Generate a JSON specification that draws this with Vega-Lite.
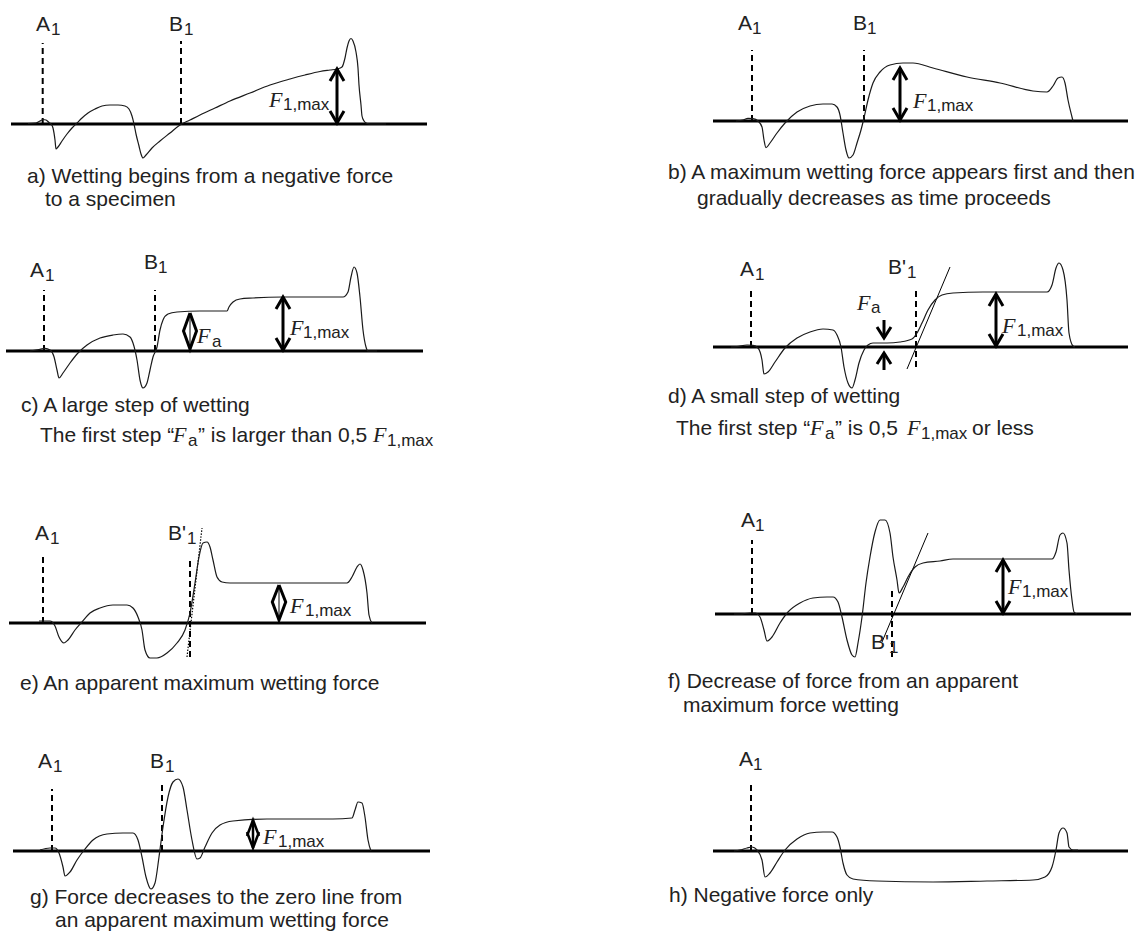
{
  "$schema": "https://vega.github.io/schema/vega-lite/v6.json",
  "background": "white",
  "padding": 0,
  "config": {"view": {"stroke": null}},
  "datasets": {
    "a_base": [{"t": 11, "t2": 427, "f": 0}],
    "a_dash": [{"t": 42.7, "f": 0, "f2": 81}, {"t": 181, "f": 0, "f2": 83}],
    "a_curve": [
      {"t": 28, "f": 0.5}, {"t": 36, "f": 1}, {"t": 40, "f": 3}, {"t": 43, "f": 4.5}, {"t": 46, "f": 4}, {"t": 49, "f": 1.5}, {"t": 51, "f": 0},
      {"t": 53, "f": -4}, {"t": 55, "f": -16}, {"t": 56, "f": -25}, {"t": 58, "f": -23}, {"t": 62, "f": -17}, {"t": 67, "f": -10}, {"t": 72, "f": -4},
      {"t": 77, "f": 1}, {"t": 82, "f": 6}, {"t": 88, "f": 11}, {"t": 95, "f": 15}, {"t": 102, "f": 18}, {"t": 110, "f": 19}, {"t": 118, "f": 19},
      {"t": 125, "f": 18}, {"t": 129, "f": 15}, {"t": 132, "f": 8}, {"t": 134, "f": 0}, {"t": 136, "f": -10}, {"t": 139, "f": -22}, {"t": 141, "f": -30},
      {"t": 143, "f": -34}, {"t": 146, "f": -31}, {"t": 152, "f": -24}, {"t": 160, "f": -17}, {"t": 170, "f": -9}, {"t": 180, "f": -1}, {"t": 190, "f": 4},
      {"t": 200, "f": 9}, {"t": 215, "f": 16}, {"t": 230, "f": 23}, {"t": 250, "f": 31}, {"t": 270, "f": 39}, {"t": 290, "f": 45}, {"t": 305, "f": 49},
      {"t": 320, "f": 52.5}, {"t": 330, "f": 54}, {"t": 337, "f": 55}, {"t": 342, "f": 57}, {"t": 345, "f": 66}, {"t": 347, "f": 76}, {"t": 349, "f": 83},
      {"t": 351, "f": 85.5}, {"t": 353, "f": 83}, {"t": 356, "f": 72}, {"t": 358, "f": 56}, {"t": 359, "f": 39}, {"t": 361, "f": 19}, {"t": 362, "f": 8},
      {"t": 364, "f": 3}, {"t": 366, "f": 1}, {"t": 370, "f": 0}, {"t": 386, "f": 0}
    ],
    "a_arrow": [
      {"id": 1, "t": 337, "f": 1}, {"id": 1, "t": 337, "f": 55},
      {"id": 2, "t": 330, "f": 43}, {"id": 2, "t": 337, "f": 55}, {"id": 2, "t": 344, "f": 43},
      {"id": 3, "t": 330, "f": 13}, {"id": 3, "t": 337, "f": 1}, {"id": 3, "t": 344, "f": 13}
    ],
    "a_big": [
      {"t": 36, "f": 93, "txt": "A"}, {"t": 169, "f": 93, "txt": "B"},
      {"t": 27, "f": -59, "txt": "a) Wetting begins from a negative force"},
      {"t": 45, "f": -82, "txt": "to a specimen"}
    ],
    "a_small": [{"t": 51, "f": 89, "txt": "1"}, {"t": 184, "f": 89, "txt": "1"}, {"t": 283, "f": 14, "txt": "1,max"}],
    "a_ital": [{"t": 269, "f": 17, "txt": "F"}],

    "b_base": [{"t": 127, "t2": 542, "f": 0}],
    "b_dash": [{"t": 166, "f": 0, "f2": 71}, {"t": 278, "f": 0, "f2": 71}],
    "b_curve": [
      {"t": 150, "f": 0}, {"t": 157, "f": 1}, {"t": 162, "f": 2.7}, {"t": 167, "f": 2.3}, {"t": 172, "f": 0}, {"t": 176, "f": -6}, {"t": 178, "f": -19},
      {"t": 180, "f": -26.7}, {"t": 184, "f": -22}, {"t": 191, "f": -12}, {"t": 199, "f": -2}, {"t": 211, "f": 9}, {"t": 224, "f": 15}, {"t": 237, "f": 17},
      {"t": 246, "f": 17}, {"t": 251, "f": 14}, {"t": 254, "f": 6}, {"t": 257, "f": -12}, {"t": 260, "f": -29}, {"t": 263, "f": -37}, {"t": 267, "f": -34},
      {"t": 271, "f": -22}, {"t": 275, "f": -9}, {"t": 278, "f": 3}, {"t": 282, "f": 21}, {"t": 287, "f": 38}, {"t": 294, "f": 49}, {"t": 304, "f": 56},
      {"t": 317, "f": 58}, {"t": 327, "f": 58}, {"t": 347, "f": 53}, {"t": 381, "f": 44}, {"t": 414, "f": 38}, {"t": 447, "f": 30}, {"t": 461, "f": 29},
      {"t": 467, "f": 35}, {"t": 472, "f": 43}, {"t": 476, "f": 44}, {"t": 479, "f": 38}, {"t": 482, "f": 21}, {"t": 486, "f": 4}, {"t": 487, "f": 0}
    ],
    "b_arrow": [
      {"id": 1, "t": 314, "f": 1}, {"id": 1, "t": 314, "f": 53},
      {"id": 2, "t": 307, "f": 41}, {"id": 2, "t": 314, "f": 53}, {"id": 2, "t": 321, "f": 41},
      {"id": 3, "t": 307, "f": 13}, {"id": 3, "t": 314, "f": 1}, {"id": 3, "t": 321, "f": 13}
    ],
    "b_big": [
      {"t": 152, "f": 91, "txt": "A"}, {"t": 267, "f": 91, "txt": "B"},
      {"t": 82, "f": -58, "txt": "b) A maximum wetting force appears first and then"},
      {"t": 111, "f": -84, "txt": "gradually decreases as time proceeds"}
    ],
    "b_small": [{"t": 166, "f": 87, "txt": "1"}, {"t": 281, "f": 87, "txt": "1"}, {"t": 341, "f": 10, "txt": "1,max"}],
    "b_ital": [{"t": 327, "f": 13, "txt": "F"}],

    "c_base": [{"t": 6, "t2": 423, "f": 0}],
    "c_dash": [{"t": 44, "f": 0, "f2": 61}, {"t": 155, "f": 0, "f2": 61}],
    "c_thin": [{"t": 190, "f": 2, "t2": 190, "f2": 38}],
    "c_curve": [
      {"t": 30, "f": 0}, {"t": 40, "f": 1.7}, {"t": 45, "f": 2.7}, {"t": 50, "f": 1}, {"t": 54, "f": -5.7}, {"t": 57, "f": -19}, {"t": 59, "f": -27},
      {"t": 63, "f": -22}, {"t": 70, "f": -12}, {"t": 78, "f": -2}, {"t": 87, "f": 6}, {"t": 100, "f": 13}, {"t": 113, "f": 16}, {"t": 123, "f": 17},
      {"t": 130, "f": 14}, {"t": 133, "f": 8}, {"t": 137, "f": -9}, {"t": 140, "f": -29}, {"t": 143, "f": -37}, {"t": 147, "f": -32}, {"t": 150, "f": -19},
      {"t": 153, "f": -6}, {"t": 157, "f": 4}, {"t": 160, "f": 21}, {"t": 163, "f": 31}, {"t": 168, "f": 37}, {"t": 177, "f": 39}, {"t": 200, "f": 40},
      {"t": 227, "f": 40}, {"t": 229, "f": 44}, {"t": 233, "f": 49}, {"t": 240, "f": 52}, {"t": 253, "f": 53}, {"t": 283, "f": 54}, {"t": 317, "f": 54},
      {"t": 343, "f": 54}, {"t": 348, "f": 59}, {"t": 351, "f": 74}, {"t": 354, "f": 84}, {"t": 357, "f": 78}, {"t": 360, "f": 54}, {"t": 363, "f": 21},
      {"t": 366, "f": 4}, {"t": 368, "f": 0}, {"t": 377, "f": 0}
    ],
    "c_arrow": [
      {"id": 1, "t": 283, "f": 1}, {"id": 1, "t": 283, "f": 54},
      {"id": 2, "t": 276, "f": 42}, {"id": 2, "t": 283, "f": 54}, {"id": 2, "t": 290, "f": 42},
      {"id": 3, "t": 276, "f": 13}, {"id": 3, "t": 283, "f": 1}, {"id": 3, "t": 290, "f": 13},
      {"id": 4, "t": 190, "f": 38}, {"id": 4, "t": 183.5, "f": 20}, {"id": 4, "t": 190, "f": 2}, {"id": 4, "t": 196.5, "f": 20}, {"id": 4, "t": 190, "f": 38}
    ],
    "c_big": [
      {"t": 30, "f": 74, "txt": "A"}, {"t": 144, "f": 82, "txt": "B"},
      {"t": 21, "f": -61, "txt": "c) A large step of wetting"},
      {"t": 40, "f": -91, "txt": "The first step “"},
      {"t": 198, "f": -91, "txt": "” is larger than 0,5"}
    ],
    "c_small": [
      {"t": 45, "f": 70, "txt": "1"}, {"t": 158, "f": 78, "txt": "1"},
      {"t": 212, "f": 4, "txt": "a"}, {"t": 303, "f": 13, "txt": "1,max"},
      {"t": 188, "f": -95, "txt": "a"}, {"t": 387, "f": -95, "txt": "1,max"}
    ],
    "c_ital": [
      {"t": 197, "f": 8, "txt": "F"}, {"t": 290, "f": 16, "txt": "F"},
      {"t": 173, "f": -91, "txt": "F"}, {"t": 373, "f": -91, "txt": "F"}
    ],

    "d_base": [{"t": 127, "t2": 542, "f": 0}],
    "d_dash": [{"t": 165, "f": 0, "f2": 57}, {"t": 330, "f": -20, "f2": 57}],
    "d_thin": [{"t": 321, "f": -22, "t2": 364, "f2": 80}],
    "d_curve": [
      {"t": 145, "f": 0}, {"t": 151, "f": 0.3}, {"t": 161, "f": 2}, {"t": 167, "f": 1.7}, {"t": 172, "f": -1}, {"t": 176, "f": -13}, {"t": 178, "f": -27},
      {"t": 182, "f": -25}, {"t": 189, "f": -15}, {"t": 199, "f": -1}, {"t": 211, "f": 9}, {"t": 224, "f": 15}, {"t": 237, "f": 18}, {"t": 247, "f": 17},
      {"t": 251, "f": 12}, {"t": 255, "f": 0}, {"t": 258, "f": -20}, {"t": 262, "f": -36}, {"t": 266, "f": -41}, {"t": 269, "f": -33}, {"t": 273, "f": -16},
      {"t": 278, "f": -3}, {"t": 282, "f": 2}, {"t": 287, "f": 4}, {"t": 301, "f": 4}, {"t": 314, "f": 5}, {"t": 326, "f": 8}, {"t": 331, "f": 14},
      {"t": 336, "f": 24}, {"t": 342, "f": 37}, {"t": 349, "f": 47}, {"t": 356, "f": 52}, {"t": 367, "f": 54}, {"t": 397, "f": 55}, {"t": 447, "f": 55},
      {"t": 461, "f": 55}, {"t": 466, "f": 62}, {"t": 470, "f": 79}, {"t": 473, "f": 84}, {"t": 477, "f": 77}, {"t": 481, "f": 47}, {"t": 483, "f": 14},
      {"t": 487, "f": 1}, {"t": 489, "f": 0}
    ],
    "d_arrow": [
      {"id": 1, "t": 410, "f": 1}, {"id": 1, "t": 410, "f": 53},
      {"id": 2, "t": 403, "f": 41}, {"id": 2, "t": 410, "f": 53}, {"id": 2, "t": 417, "f": 41},
      {"id": 3, "t": 403, "f": 13}, {"id": 3, "t": 410, "f": 1}, {"id": 3, "t": 417, "f": 13},
      {"id": 4, "t": 298, "f": 27}, {"id": 4, "t": 298, "f": 9},
      {"id": 5, "t": 291, "f": 20}, {"id": 5, "t": 298, "f": 9}, {"id": 5, "t": 305, "f": 20},
      {"id": 6, "t": 298, "f": -23}, {"id": 6, "t": 298, "f": -6},
      {"id": 7, "t": 291, "f": -17}, {"id": 7, "t": 298, "f": -6}, {"id": 7, "t": 305, "f": -17}
    ],
    "d_big": [
      {"t": 154, "f": 71, "txt": "A"}, {"t": 302, "f": 73, "txt": "B'"},
      {"t": 82, "f": -56, "txt": "d) A small step of wetting"},
      {"t": 90, "f": -88, "txt": "The first step “"},
      {"t": 249, "f": -88, "txt": "” is 0,5"},
      {"t": 386, "f": -88, "txt": "or less"}
    ],
    "d_small": [
      {"t": 169, "f": 67, "txt": "1"}, {"t": 321, "f": 69, "txt": "1"},
      {"t": 285, "f": 34, "txt": "a"}, {"t": 431, "f": 11, "txt": "1,max"},
      {"t": 239, "f": -92, "txt": "a"}, {"t": 335, "f": -92, "txt": "1,max"}
    ],
    "d_ital": [
      {"t": 271, "f": 37, "txt": "F"}, {"t": 416, "f": 14, "txt": "F"},
      {"t": 224, "f": -88, "txt": "F"}, {"t": 321, "f": -88, "txt": "F"}
    ],

    "e_base": [{"t": 9, "t2": 426, "f": 0}],
    "e_dash": [{"t": 43, "f": 0, "f2": 66}, {"t": 190, "f": -34, "f2": 66}],
    "e_dot": [{"t": 187, "f": -34, "t2": 202, "f2": 95}],
    "e_thin": [{"t": 279, "f": 3, "t2": 279, "f2": 38}],
    "e_curve": [
      {"t": 39, "f": 2}, {"t": 50, "f": 2}, {"t": 55, "f": -3}, {"t": 59, "f": -14}, {"t": 64, "f": -20}, {"t": 68, "f": -17}, {"t": 75, "f": -7},
      {"t": 82, "f": 1}, {"t": 90, "f": 10}, {"t": 100, "f": 15}, {"t": 113, "f": 18}, {"t": 127, "f": 18}, {"t": 133, "f": 15}, {"t": 138, "f": 6},
      {"t": 142, "f": -7}, {"t": 145, "f": -27}, {"t": 150, "f": -35}, {"t": 157, "f": -35}, {"t": 167, "f": -30}, {"t": 177, "f": -20}, {"t": 185, "f": -7},
      {"t": 190, "f": 10}, {"t": 195, "f": 40}, {"t": 199, "f": 66}, {"t": 203, "f": 80}, {"t": 207, "f": 81}, {"t": 210, "f": 76}, {"t": 213, "f": 63},
      {"t": 217, "f": 46}, {"t": 222, "f": 41}, {"t": 230, "f": 40}, {"t": 267, "f": 40}, {"t": 300, "f": 40}, {"t": 347, "f": 40}, {"t": 352, "f": 46},
      {"t": 357, "f": 56}, {"t": 360, "f": 59}, {"t": 363, "f": 53}, {"t": 367, "f": 30}, {"t": 369, "f": 8}, {"t": 372, "f": 0}
    ],
    "e_arrow": [
      {"id": 1, "t": 279, "f": 38}, {"id": 1, "t": 272.3, "f": 21}, {"id": 1, "t": 279, "f": 3}, {"id": 1, "t": 285.7, "f": 21}, {"id": 1, "t": 279, "f": 38}
    ],
    "e_big": [
      {"t": 35, "f": 83, "txt": "A"}, {"t": 168, "f": 83, "txt": "B'"},
      {"t": 20, "f": -67, "txt": "e) An apparent maximum wetting force"}
    ],
    "e_small": [{"t": 50, "f": 79, "txt": "1"}, {"t": 187, "f": 79, "txt": "1"}, {"t": 305, "f": 7, "txt": "1,max"}],
    "e_ital": [{"t": 290, "f": 10, "txt": "F"}],

    "f_base": [{"t": 129, "t2": 545, "f": 0}],
    "f_dash": [{"t": 166, "f": 0, "f2": 74}, {"t": 306, "f": -43, "f2": 26}],
    "f_thin": [{"t": 296, "f": -28, "t2": 342, "f2": 81}],
    "f_curve": [
      {"t": 148, "f": 0}, {"t": 154, "f": 0}, {"t": 164, "f": 1}, {"t": 169, "f": 1}, {"t": 174, "f": -3}, {"t": 178, "f": -16}, {"t": 181, "f": -27},
      {"t": 186, "f": -23}, {"t": 194, "f": -9}, {"t": 202, "f": 2}, {"t": 214, "f": 11}, {"t": 227, "f": 16}, {"t": 241, "f": 17}, {"t": 247, "f": 17},
      {"t": 252, "f": 12}, {"t": 256, "f": -3}, {"t": 261, "f": -26}, {"t": 266, "f": -41}, {"t": 269, "f": -43}, {"t": 272, "f": -29}, {"t": 276, "f": -3},
      {"t": 280, "f": 31}, {"t": 284, "f": 57}, {"t": 289, "f": 82}, {"t": 294, "f": 94}, {"t": 299, "f": 94}, {"t": 304, "f": 81}, {"t": 307, "f": 57},
      {"t": 311, "f": 34}, {"t": 313, "f": 21}, {"t": 317, "f": 27}, {"t": 322, "f": 37}, {"t": 329, "f": 47}, {"t": 337, "f": 51}, {"t": 354, "f": 53},
      {"t": 367, "f": 55}, {"t": 414, "f": 55}, {"t": 466, "f": 55}, {"t": 470, "f": 62}, {"t": 474, "f": 79}, {"t": 477, "f": 81}, {"t": 481, "f": 71},
      {"t": 483, "f": 44}, {"t": 486, "f": 14}, {"t": 488, "f": 2}, {"t": 491, "f": 0}
    ],
    "f_arrow": [
      {"id": 1, "t": 417, "f": 1}, {"id": 1, "t": 417, "f": 54},
      {"id": 2, "t": 410, "f": 42}, {"id": 2, "t": 417, "f": 54}, {"id": 2, "t": 424, "f": 42},
      {"id": 3, "t": 410, "f": 13}, {"id": 3, "t": 417, "f": 1}, {"id": 3, "t": 424, "f": 13}
    ],
    "f_big": [
      {"t": 155, "f": 87, "txt": "A"}, {"t": 285, "f": -35, "txt": "B'"},
      {"t": 82, "f": -74, "txt": "f) Decrease of force from an apparent"},
      {"t": 97, "f": -98, "txt": "maximum force wetting"}
    ],
    "f_small": [{"t": 169, "f": 83, "txt": "1"}, {"t": 303, "f": -39, "txt": "1"}, {"t": 436, "f": 17, "txt": "1,max"}],
    "f_ital": [{"t": 422, "f": 20, "txt": "F"}],

    "g_base": [{"t": 13, "t2": 430, "f": 0}],
    "g_dash": [{"t": 52, "f": 0, "f2": 62}, {"t": 162, "f": 0, "f2": 68}],
    "g_curve": [
      {"t": 40, "f": 1}, {"t": 50, "f": 3}, {"t": 55, "f": 3}, {"t": 59, "f": -2}, {"t": 63, "f": -16}, {"t": 65, "f": -25}, {"t": 70, "f": -21},
      {"t": 77, "f": -9}, {"t": 85, "f": 2}, {"t": 93, "f": 11}, {"t": 107, "f": 17}, {"t": 123, "f": 18}, {"t": 133, "f": 18}, {"t": 138, "f": 11},
      {"t": 142, "f": -6}, {"t": 146, "f": -26}, {"t": 151, "f": -38}, {"t": 155, "f": -32}, {"t": 159, "f": -6}, {"t": 163, "f": 24}, {"t": 168, "f": 54},
      {"t": 173, "f": 69}, {"t": 178, "f": 72}, {"t": 183, "f": 64}, {"t": 187, "f": 41}, {"t": 192, "f": 11}, {"t": 197, "f": -8}, {"t": 200, "f": -7},
      {"t": 205, "f": 4}, {"t": 212, "f": 18}, {"t": 220, "f": 26}, {"t": 233, "f": 30}, {"t": 267, "f": 32}, {"t": 333, "f": 32}, {"t": 352, "f": 33},
      {"t": 355, "f": 41}, {"t": 358, "f": 49}, {"t": 362, "f": 48}, {"t": 365, "f": 34}, {"t": 368, "f": 11}, {"t": 371, "f": 0}
    ],
    "g_arrow": [
      {"id": 1, "t": 253, "f": 3}, {"id": 1, "t": 253, "f": 31},
      {"id": 2, "t": 247, "f": 15}, {"id": 2, "t": 253, "f": 31}, {"id": 2, "t": 259, "f": 15},
      {"id": 3, "t": 247, "f": 19}, {"id": 3, "t": 253, "f": 3}, {"id": 3, "t": 259, "f": 19}
    ],
    "g_big": [
      {"t": 38, "f": 83, "txt": "A"}, {"t": 150, "f": 83, "txt": "B"},
      {"t": 30, "f": -53, "txt": "g) Force decreases to the zero line from"},
      {"t": 55, "f": -76, "txt": "an apparent maximum wetting force"}
    ],
    "g_small": [{"t": 53, "f": 79, "txt": "1"}, {"t": 165, "f": 79, "txt": "1"}, {"t": 278, "f": 4, "txt": "1,max"}],
    "g_ital": [{"t": 263, "f": 7, "txt": "F"}],

    "h_base": [{"t": 127, "t2": 542, "f": 0}],
    "h_dash": [{"t": 165, "f": 0, "f2": 68}],
    "h_curve": [
      {"t": 148, "f": 0}, {"t": 154, "f": 1}, {"t": 161, "f": 3}, {"t": 166, "f": 4}, {"t": 171, "f": 1}, {"t": 176, "f": -9}, {"t": 179, "f": -26},
      {"t": 184, "f": -22}, {"t": 191, "f": -11}, {"t": 199, "f": 1}, {"t": 211, "f": 12}, {"t": 224, "f": 18}, {"t": 237, "f": 19}, {"t": 246, "f": 19},
      {"t": 251, "f": 14}, {"t": 254, "f": 4}, {"t": 257, "f": -12}, {"t": 261, "f": -24}, {"t": 267, "f": -28}, {"t": 291, "f": -30}, {"t": 347, "f": -31},
      {"t": 401, "f": -30}, {"t": 447, "f": -29}, {"t": 459, "f": -26}, {"t": 466, "f": -16}, {"t": 470, "f": 1}, {"t": 473, "f": 18}, {"t": 477, "f": 23},
      {"t": 481, "f": 18}, {"t": 483, "f": 4}, {"t": 487, "f": 1}, {"t": 492, "f": 1}
    ],
    "h_big": [
      {"t": 153, "f": 85, "txt": "A"},
      {"t": 83, "f": -51, "txt": "h) Negative force only"}
    ],
    "h_small": [{"t": 167, "f": 81, "txt": "1"}]
  },
  "concat": [
    {
      "width": 560, "height": 222,
      "encoding": {
        "x": {"field": "t", "type": "quantitative", "scale": {"domain": [0, 560], "nice": false, "zero": false}, "axis": null},
        "y": {"field": "f", "type": "quantitative", "scale": {"domain": [-98, 124], "nice": false, "zero": false}, "axis": null}
      },
      "layer": [
        {"data": {"name": "a_base"}, "mark": {"type": "rule", "strokeWidth": 3, "color": "#000"}, "encoding": {"x2": {"field": "t2"}}},
        {"data": {"name": "a_dash"}, "mark": {"type": "rule", "strokeWidth": 2, "strokeDash": [6, 4], "color": "#000"}, "encoding": {"y2": {"field": "f2"}}},
        {"data": {"name": "a_curve"}, "mark": {"type": "line", "strokeWidth": 1.2, "color": "#1a1a1a", "interpolate": "monotone"}, "encoding": {"order": {"value": null}}},
        {"data": {"name": "a_arrow"}, "mark": {"type": "line", "strokeWidth": 3, "color": "#000"}, "encoding": {"detail": {"field": "id", "type": "nominal"}, "order": {"value": null}}},
        {"data": {"name": "a_big"}, "mark": {"type": "text", "font": "Liberation Sans", "fontSize": 21, "align": "left", "baseline": "alphabetic", "color": "#222"}, "encoding": {"text": {"field": "txt"}}},
        {"data": {"name": "a_small"}, "mark": {"type": "text", "font": "Liberation Sans", "fontSize": 17, "align": "left", "baseline": "alphabetic", "color": "#222"}, "encoding": {"text": {"field": "txt"}}},
        {"data": {"name": "a_ital"}, "mark": {"type": "text", "font": "Liberation Serif", "fontStyle": "italic", "fontSize": 22, "align": "left", "baseline": "alphabetic", "color": "#222"}, "encoding": {"text": {"field": "txt"}}}
      ]
    },
    {
      "width": 560, "height": 222,
      "encoding": {
        "x": {"field": "t", "type": "quantitative", "scale": {"domain": [0, 560], "nice": false, "zero": false}, "axis": null},
        "y": {"field": "f", "type": "quantitative", "scale": {"domain": [-101, 121], "nice": false, "zero": false}, "axis": null}
      },
      "layer": [
        {"data": {"name": "b_base"}, "mark": {"type": "rule", "strokeWidth": 3, "color": "#000"}, "encoding": {"x2": {"field": "t2"}}},
        {"data": {"name": "b_dash"}, "mark": {"type": "rule", "strokeWidth": 2, "strokeDash": [6, 4], "color": "#000"}, "encoding": {"y2": {"field": "f2"}}},
        {"data": {"name": "b_curve"}, "mark": {"type": "line", "strokeWidth": 1.2, "color": "#1a1a1a", "interpolate": "monotone"}, "encoding": {"order": {"value": null}}},
        {"data": {"name": "b_arrow"}, "mark": {"type": "line", "strokeWidth": 3, "color": "#000"}, "encoding": {"detail": {"field": "id", "type": "nominal"}, "order": {"value": null}}},
        {"data": {"name": "b_big"}, "mark": {"type": "text", "font": "Liberation Sans", "fontSize": 21, "align": "left", "baseline": "alphabetic", "color": "#222"}, "encoding": {"text": {"field": "txt"}}},
        {"data": {"name": "b_small"}, "mark": {"type": "text", "font": "Liberation Sans", "fontSize": 17, "align": "left", "baseline": "alphabetic", "color": "#222"}, "encoding": {"text": {"field": "txt"}}},
        {"data": {"name": "b_ital"}, "mark": {"type": "text", "font": "Liberation Serif", "fontStyle": "italic", "fontSize": 22, "align": "left", "baseline": "alphabetic", "color": "#222"}, "encoding": {"text": {"field": "txt"}}}
      ]
    },
    {
      "width": 560, "height": 228,
      "encoding": {
        "x": {"field": "t", "type": "quantitative", "scale": {"domain": [0, 560], "nice": false, "zero": false}, "axis": null},
        "y": {"field": "f", "type": "quantitative", "scale": {"domain": [-109, 119], "nice": false, "zero": false}, "axis": null}
      },
      "layer": [
        {"data": {"name": "c_base"}, "mark": {"type": "rule", "strokeWidth": 3, "color": "#000"}, "encoding": {"x2": {"field": "t2"}}},
        {"data": {"name": "c_dash"}, "mark": {"type": "rule", "strokeWidth": 2, "strokeDash": [6, 4], "color": "#000"}, "encoding": {"y2": {"field": "f2"}}},
        {"data": {"name": "c_thin"}, "mark": {"type": "rule", "strokeWidth": 1, "color": "#000"}, "encoding": {"x2": {"field": "t2"}, "y2": {"field": "f2"}}},
        {"data": {"name": "c_curve"}, "mark": {"type": "line", "strokeWidth": 1.2, "color": "#1a1a1a", "interpolate": "monotone"}, "encoding": {"order": {"value": null}}},
        {"data": {"name": "c_arrow"}, "mark": {"type": "line", "strokeWidth": 3, "color": "#000"}, "encoding": {"detail": {"field": "id", "type": "nominal"}, "order": {"value": null}}},
        {"data": {"name": "c_big"}, "mark": {"type": "text", "font": "Liberation Sans", "fontSize": 21, "align": "left", "baseline": "alphabetic", "color": "#222"}, "encoding": {"text": {"field": "txt"}}},
        {"data": {"name": "c_small"}, "mark": {"type": "text", "font": "Liberation Sans", "fontSize": 17, "align": "left", "baseline": "alphabetic", "color": "#222"}, "encoding": {"text": {"field": "txt"}}},
        {"data": {"name": "c_ital"}, "mark": {"type": "text", "font": "Liberation Serif", "fontStyle": "italic", "fontSize": 22, "align": "left", "baseline": "alphabetic", "color": "#222"}, "encoding": {"text": {"field": "txt"}}}
      ]
    },
    {
      "width": 560, "height": 228,
      "encoding": {
        "x": {"field": "t", "type": "quantitative", "scale": {"domain": [0, 560], "nice": false, "zero": false}, "axis": null},
        "y": {"field": "f", "type": "quantitative", "scale": {"domain": [-113, 115], "nice": false, "zero": false}, "axis": null}
      },
      "layer": [
        {"data": {"name": "d_base"}, "mark": {"type": "rule", "strokeWidth": 3, "color": "#000"}, "encoding": {"x2": {"field": "t2"}}},
        {"data": {"name": "d_dash"}, "mark": {"type": "rule", "strokeWidth": 2, "strokeDash": [6, 4], "color": "#000"}, "encoding": {"y2": {"field": "f2"}}},
        {"data": {"name": "d_thin"}, "mark": {"type": "rule", "strokeWidth": 1, "color": "#000"}, "encoding": {"x2": {"field": "t2"}, "y2": {"field": "f2"}}},
        {"data": {"name": "d_curve"}, "mark": {"type": "line", "strokeWidth": 1.2, "color": "#1a1a1a", "interpolate": "monotone"}, "encoding": {"order": {"value": null}}},
        {"data": {"name": "d_arrow"}, "mark": {"type": "line", "strokeWidth": 3, "color": "#000"}, "encoding": {"detail": {"field": "id", "type": "nominal"}, "order": {"value": null}}},
        {"data": {"name": "d_big"}, "mark": {"type": "text", "font": "Liberation Sans", "fontSize": 21, "align": "left", "baseline": "alphabetic", "color": "#222"}, "encoding": {"text": {"field": "txt"}}},
        {"data": {"name": "d_small"}, "mark": {"type": "text", "font": "Liberation Sans", "fontSize": 17, "align": "left", "baseline": "alphabetic", "color": "#222"}, "encoding": {"text": {"field": "txt"}}},
        {"data": {"name": "d_ital"}, "mark": {"type": "text", "font": "Liberation Serif", "fontStyle": "italic", "fontSize": 22, "align": "left", "baseline": "alphabetic", "color": "#222"}, "encoding": {"text": {"field": "txt"}}}
      ]
    },
    {
      "width": 560, "height": 255,
      "encoding": {
        "x": {"field": "t", "type": "quantitative", "scale": {"domain": [0, 560], "nice": false, "zero": false}, "axis": null},
        "y": {"field": "f", "type": "quantitative", "scale": {"domain": [-102, 153], "nice": false, "zero": false}, "axis": null}
      },
      "layer": [
        {"data": {"name": "e_base"}, "mark": {"type": "rule", "strokeWidth": 3, "color": "#000"}, "encoding": {"x2": {"field": "t2"}}},
        {"data": {"name": "e_dash"}, "mark": {"type": "rule", "strokeWidth": 2, "strokeDash": [6, 4], "color": "#000"}, "encoding": {"y2": {"field": "f2"}}},
        {"data": {"name": "e_dot"}, "mark": {"type": "rule", "strokeWidth": 1.2, "strokeDash": [1.5, 1.5], "color": "#000"}, "encoding": {"x2": {"field": "t2"}, "y2": {"field": "f2"}}},
        {"data": {"name": "e_thin"}, "mark": {"type": "rule", "strokeWidth": 1, "color": "#000"}, "encoding": {"x2": {"field": "t2"}, "y2": {"field": "f2"}}},
        {"data": {"name": "e_curve"}, "mark": {"type": "line", "strokeWidth": 1.2, "color": "#1a1a1a", "interpolate": "monotone"}, "encoding": {"order": {"value": null}}},
        {"data": {"name": "e_arrow"}, "mark": {"type": "line", "strokeWidth": 3, "color": "#000"}, "encoding": {"detail": {"field": "id", "type": "nominal"}, "order": {"value": null}}},
        {"data": {"name": "e_big"}, "mark": {"type": "text", "font": "Liberation Sans", "fontSize": 21, "align": "left", "baseline": "alphabetic", "color": "#222"}, "encoding": {"text": {"field": "txt"}}},
        {"data": {"name": "e_small"}, "mark": {"type": "text", "font": "Liberation Sans", "fontSize": 17, "align": "left", "baseline": "alphabetic", "color": "#222"}, "encoding": {"text": {"field": "txt"}}},
        {"data": {"name": "e_ital"}, "mark": {"type": "text", "font": "Liberation Serif", "fontStyle": "italic", "fontSize": 22, "align": "left", "baseline": "alphabetic", "color": "#222"}, "encoding": {"text": {"field": "txt"}}}
      ]
    },
    {
      "width": 560, "height": 255,
      "encoding": {
        "x": {"field": "t", "type": "quantitative", "scale": {"domain": [0, 560], "nice": false, "zero": false}, "axis": null},
        "y": {"field": "f", "type": "quantitative", "scale": {"domain": [-111, 144], "nice": false, "zero": false}, "axis": null}
      },
      "layer": [
        {"data": {"name": "f_base"}, "mark": {"type": "rule", "strokeWidth": 3, "color": "#000"}, "encoding": {"x2": {"field": "t2"}}},
        {"data": {"name": "f_dash"}, "mark": {"type": "rule", "strokeWidth": 2, "strokeDash": [6, 4], "color": "#000"}, "encoding": {"y2": {"field": "f2"}}},
        {"data": {"name": "f_thin"}, "mark": {"type": "rule", "strokeWidth": 1, "color": "#000"}, "encoding": {"x2": {"field": "t2"}, "y2": {"field": "f2"}}},
        {"data": {"name": "f_curve"}, "mark": {"type": "line", "strokeWidth": 1.2, "color": "#1a1a1a", "interpolate": "monotone"}, "encoding": {"order": {"value": null}}},
        {"data": {"name": "f_arrow"}, "mark": {"type": "line", "strokeWidth": 3, "color": "#000"}, "encoding": {"detail": {"field": "id", "type": "nominal"}, "order": {"value": null}}},
        {"data": {"name": "f_big"}, "mark": {"type": "text", "font": "Liberation Sans", "fontSize": 21, "align": "left", "baseline": "alphabetic", "color": "#222"}, "encoding": {"text": {"field": "txt"}}},
        {"data": {"name": "f_small"}, "mark": {"type": "text", "font": "Liberation Sans", "fontSize": 17, "align": "left", "baseline": "alphabetic", "color": "#222"}, "encoding": {"text": {"field": "txt"}}},
        {"data": {"name": "f_ital"}, "mark": {"type": "text", "font": "Liberation Serif", "fontStyle": "italic", "fontSize": 22, "align": "left", "baseline": "alphabetic", "color": "#222"}, "encoding": {"text": {"field": "txt"}}}
      ]
    },
    {
      "width": 560, "height": 198,
      "encoding": {
        "x": {"field": "t", "type": "quantitative", "scale": {"domain": [0, 560], "nice": false, "zero": false}, "axis": null},
        "y": {"field": "f", "type": "quantitative", "scale": {"domain": [-82, 116], "nice": false, "zero": false}, "axis": null}
      },
      "layer": [
        {"data": {"name": "g_base"}, "mark": {"type": "rule", "strokeWidth": 3, "color": "#000"}, "encoding": {"x2": {"field": "t2"}}},
        {"data": {"name": "g_dash"}, "mark": {"type": "rule", "strokeWidth": 2, "strokeDash": [6, 4], "color": "#000"}, "encoding": {"y2": {"field": "f2"}}},
        {"data": {"name": "g_curve"}, "mark": {"type": "line", "strokeWidth": 1.2, "color": "#1a1a1a", "interpolate": "monotone"}, "encoding": {"order": {"value": null}}},
        {"data": {"name": "g_arrow"}, "mark": {"type": "line", "strokeWidth": 2.5, "color": "#000"}, "encoding": {"detail": {"field": "id", "type": "nominal"}, "order": {"value": null}}},
        {"data": {"name": "g_big"}, "mark": {"type": "text", "font": "Liberation Sans", "fontSize": 21, "align": "left", "baseline": "alphabetic", "color": "#222"}, "encoding": {"text": {"field": "txt"}}},
        {"data": {"name": "g_small"}, "mark": {"type": "text", "font": "Liberation Sans", "fontSize": 17, "align": "left", "baseline": "alphabetic", "color": "#222"}, "encoding": {"text": {"field": "txt"}}},
        {"data": {"name": "g_ital"}, "mark": {"type": "text", "font": "Liberation Serif", "fontStyle": "italic", "fontSize": 22, "align": "left", "baseline": "alphabetic", "color": "#222"}, "encoding": {"text": {"field": "txt"}}}
      ]
    },
    {
      "width": 560, "height": 198,
      "encoding": {
        "x": {"field": "t", "type": "quantitative", "scale": {"domain": [0, 560], "nice": false, "zero": false}, "axis": null},
        "y": {"field": "f", "type": "quantitative", "scale": {"domain": [-82, 116], "nice": false, "zero": false}, "axis": null}
      },
      "layer": [
        {"data": {"name": "h_base"}, "mark": {"type": "rule", "strokeWidth": 3, "color": "#000"}, "encoding": {"x2": {"field": "t2"}}},
        {"data": {"name": "h_dash"}, "mark": {"type": "rule", "strokeWidth": 2, "strokeDash": [6, 4], "color": "#000"}, "encoding": {"y2": {"field": "f2"}}},
        {"data": {"name": "h_curve"}, "mark": {"type": "line", "strokeWidth": 1.2, "color": "#1a1a1a", "interpolate": "monotone"}, "encoding": {"order": {"value": null}}},
        {"data": {"name": "h_big"}, "mark": {"type": "text", "font": "Liberation Sans", "fontSize": 21, "align": "left", "baseline": "alphabetic", "color": "#222"}, "encoding": {"text": {"field": "txt"}}},
        {"data": {"name": "h_small"}, "mark": {"type": "text", "font": "Liberation Sans", "fontSize": 17, "align": "left", "baseline": "alphabetic", "color": "#222"}, "encoding": {"text": {"field": "txt"}}}
      ]
    }
  ],
  "columns": 2,
  "spacing": {"row": 10, "column": 26},
  "align": "each",
  "bounds": "flush"
}
